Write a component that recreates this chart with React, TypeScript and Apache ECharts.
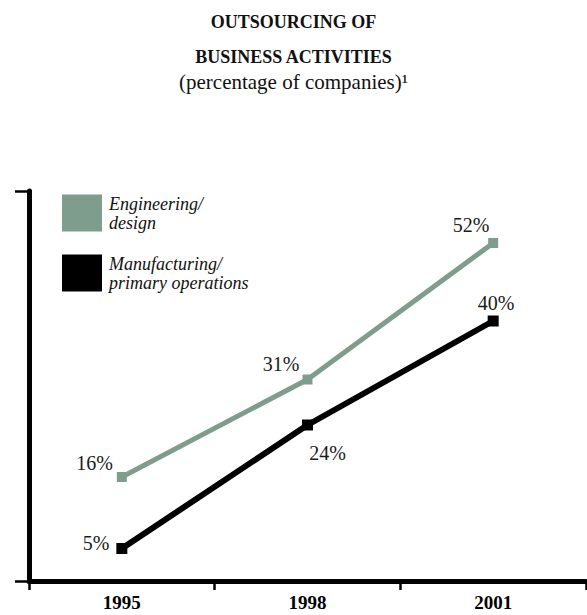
import React, { useEffect, useRef } from "react";
import * as echarts from "echarts";

const years = ["1995", "1998", "2001"];
const seriesNames = ["Engineering/design", "Manufacturing/primary operations"];
const legendLines: Record<string, string> = {
  "Engineering/design": "Engineering/\ndesign",
  "Manufacturing/primary operations": "Manufacturing/\nprimary operations",
};
const engineering = [16, 31, 52];
const manufacturing = [5, 24, 40];
const titleLines = ["OUTSOURCING OF", "BUSINESS ACTIVITIES"];
const subtitle = "(percentage of companies)¹";
const yMin = 0;
const yMax = 60;

const GREEN = "#7f9d8d";
const BLACK = "#000000";
const FONT = "'Liberation Serif', 'Times New Roman', serif";

// label placement per point (style only)
const engLabelPos = [
  { position: "left", distance: 4, offset: [0, -14] },
  { position: "left", distance: 3, offset: [0, -16] },
  { position: "top", distance: 3, offset: [-22, 0] },
];
const mfgLabelPos = [
  { position: "left", distance: 7, offset: [0, -6] },
  { position: "bottom", distance: 12, offset: [20, 0] },
  { position: "top", distance: 3, offset: [3, 0] },
];

function buildData(values: number[], pos: any[]) {
  return values.map((v, i) => ({
    value: v,
    label: { position: pos[i].position, distance: pos[i].distance, offset: pos[i].offset },
  }));
}

export default function App() {
  const ref = useRef<HTMLDivElement>(null);
  useEffect(() => {
    if (!ref.current) return;
    const chart = echarts.init(ref.current, undefined, { renderer: "svg" });
    const labelStyle = {
      show: true,
      formatter: "{c}%",
      fontFamily: FONT,
      fontSize: 20,
      color: "#1a1a1a",
    };
    chart.setOption({
      animation: false,
      backgroundColor: "#ffffff",
      title: [
        {
          text: titleLines.join("\n"),
          left: "center",
          top: -1,
          textStyle: {
            fontFamily: FONT,
            fontSize: 18,
            fontWeight: "bold",
            color: "#111",
            lineHeight: 35,
          },
        },
        {
          text: subtitle,
          left: "center",
          top: 64,
          textStyle: {
            fontFamily: FONT,
            fontSize: 21,
            fontWeight: "normal",
            color: "#111",
            lineHeight: 26,
          },
        },
      ],
      legend: {
        orient: "vertical",
        left: 57,
        top: 189,
        icon: "rect",
        itemWidth: 40,
        itemHeight: 37,
        itemGap: 22,
        data: seriesNames,
        formatter: (name: string) => legendLines[name] ?? name,
        textStyle: {
          fontFamily: FONT,
          fontStyle: "italic",
          fontSize: 18,
          lineHeight: 19,
          color: "#111",
          padding: [0, 0, 0, 2],
        },
        selectedMode: false,
      },
      grid: { left: 29, right: 1, top: 191, bottom: 34, containLabel: false },
      xAxis: {
        type: "category",
        data: years,
        boundaryGap: true,
        axisLine: { lineStyle: { color: BLACK, width: 5 } },
        axisTick: { show: true, length: 9, lineStyle: { color: BLACK, width: 2.5 }, alignWithLabel: false },
        axisLabel: {
          fontFamily: FONT,
          fontWeight: "bold",
          fontSize: 19,
          color: BLACK,
          margin: 12,
        },
        splitLine: { show: false },
      },
      yAxis: {
        type: "value",
        min: yMin,
        max: yMax,
        interval: yMax - yMin,
        axisLine: { show: true, lineStyle: { color: BLACK, width: 5 } },
        axisTick: { show: true, length: 14, lineStyle: { color: BLACK, width: 2.5 } },
        axisLabel: { show: false },
        splitLine: { show: false },
      },
      series: [
        {
          name: seriesNames[0],
          type: "line",
          data: buildData(engineering, engLabelPos),
          symbol: "rect",
          symbolSize: 10,
          lineStyle: { color: GREEN, width: 5 },
          itemStyle: { color: GREEN },
          label: labelStyle,
          z: 3,
        },
        {
          name: seriesNames[1],
          type: "line",
          data: buildData(manufacturing, mfgLabelPos),
          symbol: "rect",
          symbolSize: 11,
          lineStyle: { color: BLACK, width: 6 },
          itemStyle: { color: BLACK },
          label: labelStyle,
          z: 3,
        },
      ],
    });
    return () => chart.dispose();
  }, []);
  return (
    <div
      ref={ref}
      style={{ position: "absolute", left: 0, top: 0, width: 587, height: 615, background: "#fff" }}
    />
  );
}
